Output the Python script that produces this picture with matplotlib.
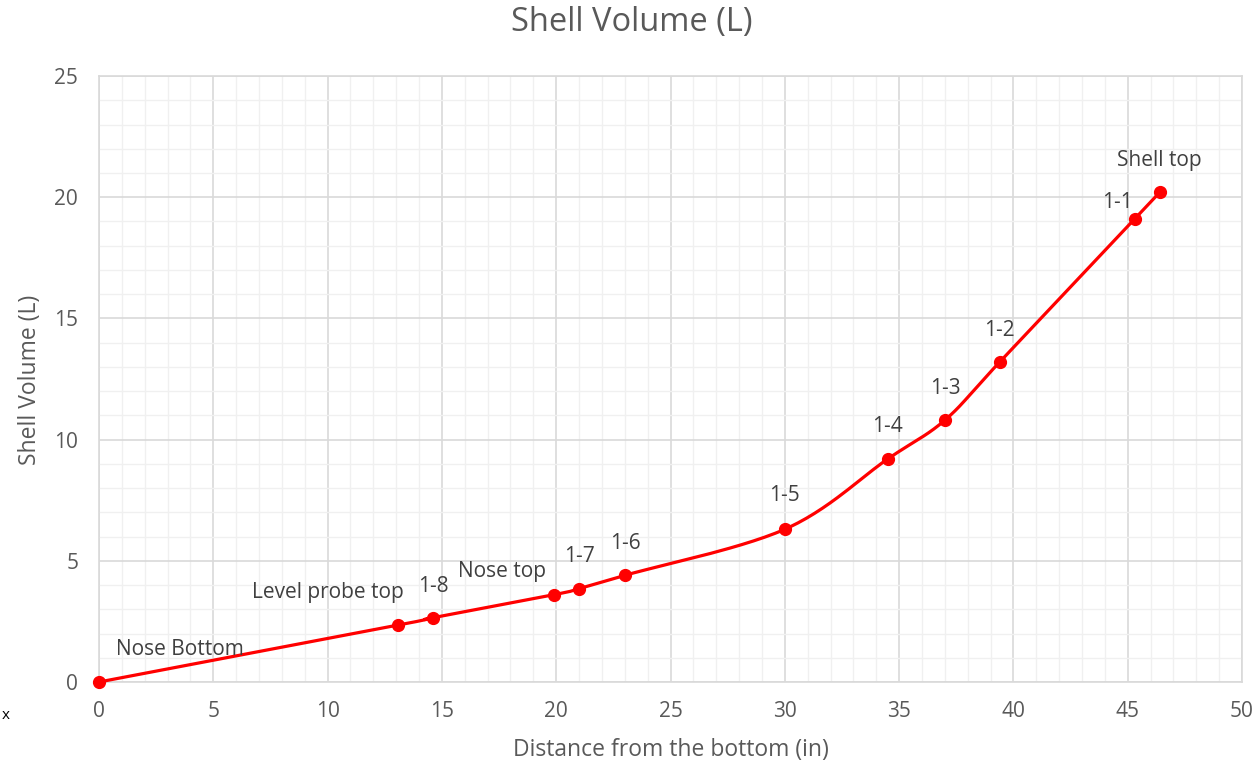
import numpy as np
import matplotlib.pyplot as plt
from matplotlib.ticker import MultipleLocator

# data
distance = [0, 13.1, 14.6, 19.9, 21.0, 23.0, 30.0, 34.5, 37.0, 39.4, 45.3, 46.4]
volume = [0, 2.35, 2.65, 3.6, 3.85, 4.4, 6.3, 9.2, 10.8, 13.2, 19.1, 20.2]
labels = ['Nose Bottom', 'Level probe top', '1-8', 'Nose top', '1-7', '1-6',
          '1-5', '1-4', '1-3', '1-2', '1-1', 'Shell top']
# label offsets in pixels from each point
offsets = [(81, 32), (-71, 33), (1, 31), (-52, 23), (0, 32), (1, 32),
           (0, 34), (0, 32), (1, 32), (0, 32), (-17, 17), (0, 32)]


def smooth_curve(x, y, n=30):
    # Excel-like smoothed line: cubic bezier with catmull-rom control points
    x = np.asarray(x, float)
    y = np.asarray(y, float)
    xs, ys = [x[0]], [y[0]]
    for i in range(len(x) - 1):
        i0 = max(i - 1, 0)
        i3 = min(i + 2, len(x) - 1)
        c1x = x[i] + (x[i + 1] - x[i0]) / 6
        c1y = y[i] + (y[i + 1] - y[i0]) / 6
        c2x = x[i + 1] - (x[i3] - x[i]) / 6
        c2y = y[i + 1] - (y[i3] - y[i]) / 6
        t = np.linspace(0, 1, n)[1:]
        bx = (1 - t)**3 * x[i] + 3 * (1 - t)**2 * t * c1x + 3 * (1 - t) * t**2 * c2x + t**3 * x[i + 1]
        by = (1 - t)**3 * y[i] + 3 * (1 - t)**2 * t * c1y + 3 * (1 - t) * t**2 * c2y + t**3 * y[i + 1]
        xs.extend(bx)
        ys.extend(by)
    return np.array(xs), np.array(ys)


plt.rcParams['font.family'] = ['Open Sans', 'DejaVu Sans']
text_col = '#595959'

fig = plt.figure(figsize=(12.6, 7.68), dpi=100)
ax = fig.add_axes([0.0786, 0.112, 0.9071, 0.789])

sx, sy = smooth_curve(distance, volume)
ax.plot(sx, sy, color='#ff0000', lw=2.3, zorder=3, solid_capstyle='round', clip_on=False)
ax.plot(distance, volume, 'o', color='#ff0000', ms=8.5, zorder=4, clip_on=False)

for x, y, lab, off in zip(distance, volume, labels, offsets):
    ax.annotate(lab, (x, y), xytext=off, textcoords='offset pixels',
                ha='center', va='center', fontsize=15, color='#404040', zorder=5)

ax.set_xlim(0, 50)
ax.set_ylim(0, 25)
ax.xaxis.set_major_locator(MultipleLocator(5))
ax.yaxis.set_major_locator(MultipleLocator(5))
ax.xaxis.set_minor_locator(MultipleLocator(1))
ax.yaxis.set_minor_locator(MultipleLocator(1))
ax.grid(which='major', color='#d9d9d9', lw=1.2, zorder=0)
ax.grid(which='minor', color='#f0f0f0', lw=1.0, zorder=0)
ax.set_axisbelow(True)
for s in ax.spines.values():
    s.set_color('#d9d9d9')
    s.set_linewidth(1.2)
ax.tick_params(which='both', length=0, labelsize=15, labelcolor=text_col)
ax.tick_params(axis='x', pad=14)
ax.tick_params(axis='y', pad=15)

fig.text(0.501, 0.971, 'Shell Volume (L)', fontsize=23.5, color=text_col,
         ha='center', va='center')
fig.text(0.5325, 0.023, 'Distance from the bottom (in)', fontsize=16.5, color=text_col,
         ha='center', va='center')
fig.text(0.024, 0.506, 'Shell Volume (L)', fontsize=16.5, color=text_col,
         ha='center', va='center', rotation=90)

fig.text(0.001, 0.068, 'x', fontsize=11, color='black', ha='left', va='center')

fig.savefig('out.png', dpi=100, facecolor='white')
